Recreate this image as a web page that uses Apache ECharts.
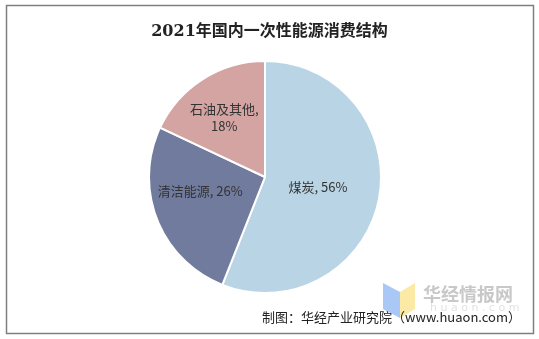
<!DOCTYPE html>
<html><head><meta charset="utf-8">
<script src="https://cdn.jsdelivr.net/npm/echarts@6/dist/echarts.min.js"></script>
<style>html,body{margin:0;padding:0;background:#fff}#c{width:539px;height:339px}</style>
</head><body><div id="c"></div>
<script>
const categories = ['煤炭', '清洁能源', '石油及其他'];
const values = [56, 26, 18];
const colors = ['#b9d4e4', '#717b9e', '#d3a4a2'];
const labelOffsets = [[-7, -1], [-8, -8], [-8, -8]];
const titleText = '2021年国内一次性能源消费结构';
const sourceText = '制图：华经产业研究院（www.huaon.com）';

const chart = echarts.init(document.getElementById('c'));
chart.setOption({
  animation: false,
  title: {
    text: titleText, left: 'center', top: 19,
    textStyle: {fontFamily: 'DejaVu Serif, Noto Sans CJK SC', fontSize: 16, fontWeight: 'bold', color: '#222'}
  },
  graphic: [
    {type: 'rect', shape: {x: 6.5, y: 5.5, width: 527, height: 328}, style: {fill: 'none', stroke: '#7f7f7f', lineWidth: 1.5}, z: -1},
    {type: 'polygon', shape: {points: [[383, 283], [400, 292], [400, 318], [383, 309]]}, style: {fill: '#a9c8f5'}},
    {type: 'polygon', shape: {points: [[400, 292], [415, 283], [415, 309], [400, 318]]}, style: {fill: '#fbe9a6'}},
    {type: 'text', left: 423, top: 285, style: {text: '华经情报网', font: 'bold 18px "Noto Sans CJK SC"', fill: '#c8c8c8'}},
    {type: 'text', left: 430, top: 303, style: {text: 'h u a o n . c o m', font: '11px "DejaVu Sans"', fill: '#e2e2e2'}},
    {type: 'text', right: 18, top: 311, style: {text: sourceText, font: '13px "Noto Sans CJK SC"', fill: '#222'}}
  ],
  series: [{
    type: 'pie',
    center: [265, 177],
    radius: [0, 116],
    startAngle: 90,
    clockwise: true,
    data: categories.map((n, i) => ({
      name: n, value: values[i],
      itemStyle: {color: colors[i]},
      label: {offset: labelOffsets[i]}
    })),
    itemStyle: {borderColor: '#fff', borderWidth: 2},
    label: {
      show: true, position: 'inside',
      formatter: p => p.name === '石油及其他' ? p.name + ',\n' + p.value + '%' : p.name + ', ' + p.value + '%',
      fontFamily: 'Noto Sans CJK SC', fontSize: 13, color: '#333', lineHeight: 17
    },
    labelLine: {show: false},
    emphasis: {disabled: true}
  }]
});
</script></body></html>
